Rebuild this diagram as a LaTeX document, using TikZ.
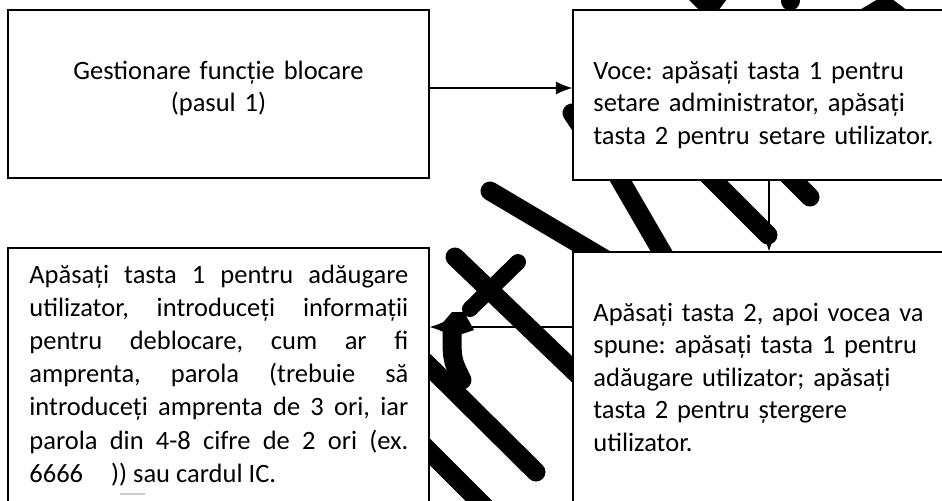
\documentclass[tikz,border=0pt]{standalone}
\usepackage{fontspec}
\setmainfont{Carlito}
\usepackage{tikz}
\usetikzlibrary{positioning}
\usetikzlibrary{arrows.meta}
\setlength{\parindent}{0pt}
\frenchspacing

\begin{document}
\begin{tikzpicture}[x=0.5pt,y=-0.5pt,
		box/.style={draw,line width=0.6pt,fill=white,rectangle,inner sep=0pt},
		txt/.style={inner sep=0pt,text width=190pt,font=\fontsize{13.25pt}{16.25pt}\selectfont},
		conn/.style={line width=0.6pt,-{Latex[length=8.3pt,width=6.5pt]}},
		scribble/.style={line width=9.5pt,line cap=round,black}]
		%\draw[gray!30,step=50] (0,0) grid (942,500);
		\useasboundingbox (0,0) rectangle (942,500);
		\clip (0,0) rectangle (942,500);
		% brush strokes, mostly hidden by the boxes
		\draw[scribble] (490,191) -- (640,280);
		\draw[scribble] (597,140) -- (680,283);
		\draw[scribble] (680,147) -- (768,235);
		\draw[scribble] (760,147) -- (810,197);
		\draw[scribble] (572,113) -- (610,170);
		\draw[scribble] (790,-20) -- (790,1);
		\fill (688,-1) -- (727,-1) -- (718,11) -- (700,11) -- cycle;
		\fill (858,11) -- (878,-1) -- (892,-1) -- (908,11) -- cycle;
		\fill (639,13) circle (2pt);
		\draw[scribble] (455,257) -- (600,396);
		\draw[scribble,line width=8pt] (470,309) -- (518,262);
		\draw[scribble] (425,362) -- (536,472);
		\draw[scribble] (452,332) .. controls (452,360) .. (462,380);
		\fill (440,326) -- (452,312) -- (464,312) -- (474,330) -- (462,334) -- (448,338) -- cycle;
		\draw[scribble] (420,442) -- (510,532);
		% boxes
		\node[box, minimum width=210.5pt, minimum height=84pt] (gest) at (218.5,94) {};
		\node[box, minimum width=196pt, minimum height=85pt] (voce) at (769,95) {};
		\node[box, minimum width=210.5pt, minimum height=128.5pt] (add) at (218.5,376.5) {};
		\node[box, minimum width=196pt, minimum height=126.5pt] (del) at (769,378.5) {};
		% texts
		\node[txt, align=center, anchor=base] (gesttxt) at (218.5,79) {Gestionare funcție blocare\\(pasul 1)};
		\node[txt, align=left, anchor=base west] (vocetxt) at (593,79) {Voce: apăsați tasta 1 pentru\\setare administrator, apăsați\\tasta 2 pentru setare utilizator.};
		\node[txt, text width=189.5pt, align=justify, anchor=base west, font=\fontsize{13.25pt}{16.6pt}\selectfont] (addtxt) at (29,283) {Apăsați tasta 1 pentru adăugare\linebreak utilizator, introduceți informații\linebreak pentru deblocare, cum ar fi\linebreak amprenta, parola (trebuie să\linebreak introduceți amprenta de 3 ori, iar\linebreak parola din 4-8 cifre de 2 ori (ex.\linebreak 6666\hspace{14pt})) sau cardul IC.};
		\node[txt, align=left, anchor=base west] (deltxt) at (593,321) {Apăsați tasta 2, apoi vocea va\\spune: apăsați tasta 1 pentru\\adăugare utilizator; apăsați\\tasta 2 pentru ștergere\\utilizator.};
		\draw[black!20,line width=0.6pt] (120,494) -- (145,494);
		% connectors
		\draw[conn] ([yshift=3pt]gest.east) -- ([yshift=3pt]gest.east -| voce.west);
		\draw[conn] (voce.south) -- (del.north);
		\draw[conn] ([yshift=25.75pt]del.west) -- ([yshift=25.75pt]del.west -| add.east);
\end{tikzpicture}
\end{document}
